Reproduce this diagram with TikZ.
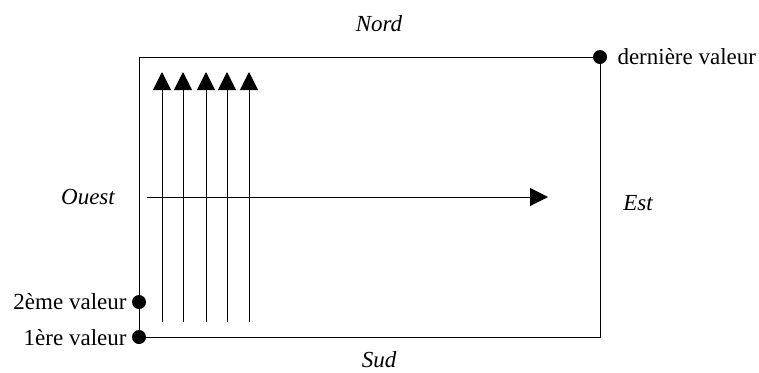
\documentclass[tikz,border=0pt]{standalone}
\usepackage{fontspec}
\setmainfont{LiberationSerif}[Extension=.ttf, UprightFont=*-Regular, ItalicFont=*-Italic, BoldFont=*-Bold, BoldItalicFont=*-BoldItalic]
\usetikzlibrary{arrows.meta}
\begin{document}
\begin{tikzpicture}[x=0.5pt,y=-0.5pt, line width=0.5pt,
  lbl/.style={font=\fontsize{11.5}{13}\selectfont, inner sep=0pt},
  ital/.style={font=\fontsize{11.5}{13}\selectfont\itshape, inner sep=0pt},
  dot/.style={circle, fill=black, inner sep=0pt, minimum size=7pt},
  arr/.style={-{Triangle[length=9pt,width=9pt]}}]
\useasboundingbox (0,0) rectangle (759,372);
% corners and value dots
\node[dot] (v1) at (139,337) {};
\node[dot] (v2) at (139,302) {};
\node[dot] (vn) at (600,57) {};
\coordinate (nw) at (139,57);
\coordinate (se) at (600,337);
\draw (v1.center) -- (nw) -- (vn.center) -- (se) -- cycle;
% labels
\node[lbl, anchor=east] (l1) at (127,338) {1ère valeur};
\node[lbl, anchor=east] (l2) at (127,302) {2ème valeur};
\node[lbl, anchor=west] (ln) at (617,57) {dernière valeur};
\node[ital] (nord) at (379,24) {Nord};
\node[ital] (sud) at (379,360) {Sud};
\node[ital] (ouest) at (88,197) {Ouest};
\node[ital] (est) at (638,203) {Est};
% vertical arrows
\foreach \i/\x in {1/162,2/183,3/206,4/227,5/249}{
  \coordinate (b\i) at (\x,322);
  \coordinate (t\i) at (\x,72);
  \draw[arr] (b\i) -- (t\i);
}
% horizontal arrow
\coordinate (hw) at (147,197);
\coordinate (he) at (548,197);
\draw[arr] (hw) -- (he);
\end{tikzpicture}
\end{document}
